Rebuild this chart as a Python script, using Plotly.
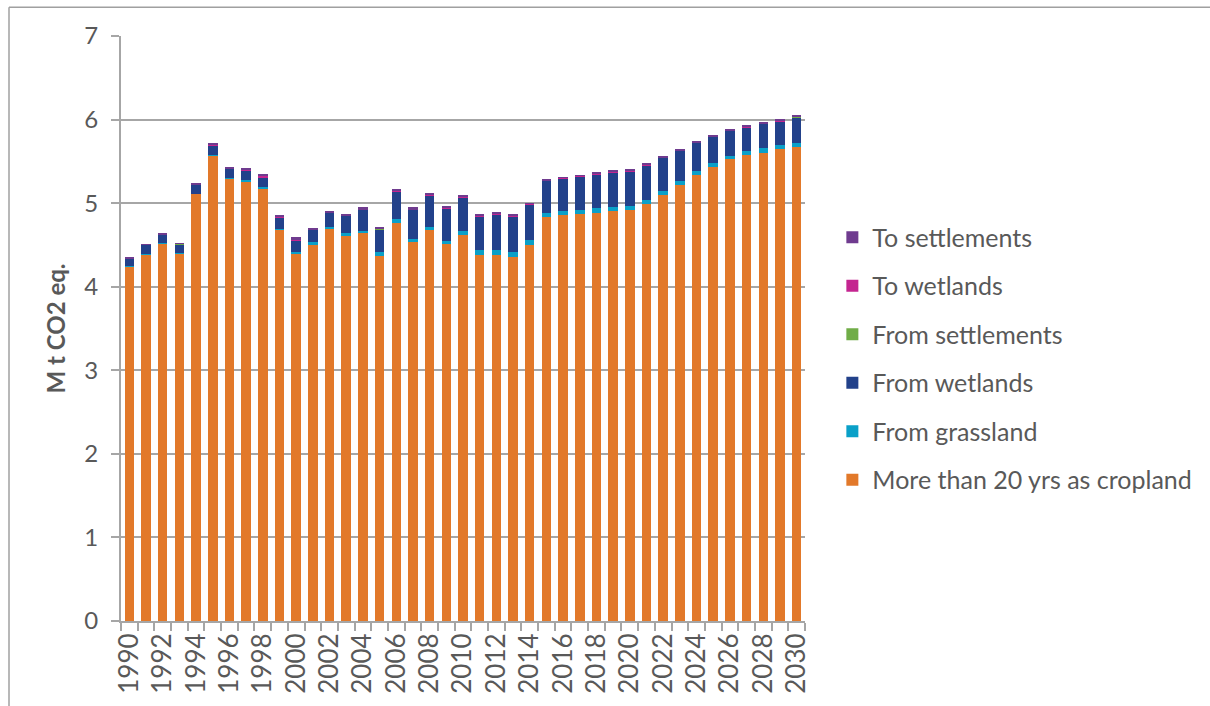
import plotly.graph_objects as go

years = [str(y) for y in range(1990, 2031)]
tick_text = [y if int(y) % 2 == 0 else "" for y in years]

cropland = [4.24, 4.39, 4.52, 4.40, 5.11, 5.57, 5.29, 5.26, 5.17, 4.68,
            4.40, 4.51, 4.685, 4.61, 4.64, 4.37, 4.765, 4.535, 4.68, 4.51,
            4.62, 4.38, 4.38, 4.35, 4.50, 4.84, 4.86, 4.87, 4.885, 4.905,
            4.915, 4.985, 5.095, 5.22, 5.335, 5.43, 5.525, 5.575, 5.605, 5.645,
            5.675]
from_grassland = [0.005, 0.005, 0.005, 0.005, 0.005, 0.01, 0.01, 0.02, 0.02, 0.01,
                  0.01, 0.02, 0.025, 0.03, 0.03, 0.04, 0.045, 0.04, 0.04, 0.04,
                  0.05, 0.055, 0.06, 0.06, 0.055, 0.045, 0.045, 0.05, 0.055, 0.05,
                  0.055, 0.055, 0.055, 0.05, 0.045, 0.05, 0.045, 0.045, 0.05, 0.045,
                  0.045]
from_wetlands = [0.09, 0.105, 0.10, 0.105, 0.105, 0.11, 0.11, 0.105, 0.12, 0.135,
                 0.145, 0.15, 0.175, 0.21, 0.25, 0.28, 0.33, 0.345, 0.375, 0.385,
                 0.40, 0.405, 0.425, 0.43, 0.43, 0.385, 0.39, 0.40, 0.405, 0.415,
                 0.41, 0.41, 0.395, 0.355, 0.34, 0.315, 0.295, 0.285, 0.295, 0.29,
                 0.31]
from_settlements = [0.002, 0.002, 0.002, 0.002, 0.002, 0.002, 0.002, 0.002, 0.002, 0.002,
                    0.002, 0.002, 0.002, 0.002, 0.002, 0.002, 0.002, 0.002, 0.002, 0.002,
                    0.002, 0.002, 0.002, 0.002, 0.002, 0.002, 0.002, 0.002, 0.002, 0.002,
                    0.002, 0.002, 0.002, 0.002, 0.002, 0.002, 0.002, 0.002, 0.002, 0.002,
                    0.002]
to_wetlands = [0.003, 0.002, 0.003, 0.003, 0.005, 0.006, 0.008, 0.012, 0.015, 0.012,
               0.012, 0.008, 0.006, 0.005, 0.006, 0.006, 0.005, 0.006, 0.005, 0.005,
               0.005, 0.005, 0.005, 0.005, 0.004, 0.004, 0.004, 0.004, 0.005, 0.005,
               0.005, 0.006, 0.004, 0.006, 0.005, 0.005, 0.004, 0.006, 0.005, 0.005,
               0.005]
to_settlements = [0.005, 0.001, 0.005, 0.005, 0.013, 0.012, 0.010, 0.021, 0.023, 0.021,
                  0.021, 0.015, 0.017, 0.018, 0.022, 0.022, 0.013, 0.022, 0.013, 0.013,
                  0.013, 0.013, 0.013, 0.013, 0.009, 0.009, 0.009, 0.009, 0.013, 0.013,
                  0.013, 0.017, 0.009, 0.017, 0.013, 0.013, 0.009, 0.017, 0.013, 0.013,
                  0.013]

series = [
    ("More than 20 yrs as cropland", cropland, "#E2792A"),
    ("From grassland", from_grassland, "#0AA0C8"),
    ("From wetlands", from_wetlands, "#22418A"),
    ("From settlements", from_settlements, "#70AD47"),
    ("To wetlands", to_wetlands, "#C42590"),
    ("To settlements", to_settlements, "#6F3B8F"),
]

FONT = "Lato"
TXT = "#595959"
GRID = "#A6A6A6"

fig = go.Figure()
n = len(series)
for i, (name, vals, col) in enumerate(series):
    fig.add_trace(go.Bar(x=years, y=vals, name=name, legendgroup=f"g{i}",
                         legendrank=n - i,
                         marker=dict(color=col, line=dict(width=0))))

fig.update_layout(
    barmode="stack",
    bargap=0.43,
    width=1210, height=706,
    margin=dict(l=121, r=405, t=36, b=82),
    paper_bgcolor="white", plot_bgcolor="white",
    font=dict(family=FONT, color=TXT, size=24),
    legend=dict(traceorder="grouped", tracegroupgap=13,
                x=1.04, xanchor="left", y=0.695, yanchor="top",
                font=dict(family=FONT, size=25, color=TXT),
                itemwidth=30, bgcolor="rgba(0,0,0,0)"),
    showlegend=True,
)
fig.update_yaxes(range=[0, 7], dtick=1, showgrid=True, gridcolor=GRID, gridwidth=2,
                 showline=True, linecolor=GRID, linewidth=2,
                 ticks="outside", ticklen=8, tickcolor=GRID, tickwidth=2,
                 ticklabelstandoff=8,
                 tickfont=dict(size=24, color=TXT), zeroline=False,
                 title=dict(text="<b>M t CO2 eq.</b>", font=dict(size=24, color=TXT), standoff=12))
fig.update_xaxes(type="category", tickmode="array", tickvals=years, ticktext=tick_text,
                 tickangle=-90, tickson="boundaries", ticks="outside", ticklen=8,
                 tickcolor=GRID, tickwidth=2, showline=True, linecolor=GRID, linewidth=2,
                 showgrid=False, tickfont=dict(size=26, color=TXT))

# chart frame (top and left edges)
fx0 = (9 - 121) / 684
fy1 = (624 - 7) / 588
fig.add_shape(type="line", xref="paper", yref="paper",
              x0=fx0, x1=1.62, y0=fy1, y1=fy1,
              line=dict(color="#A0A0A0", width=1.5))
fig.add_shape(type="line", xref="paper", yref="paper",
              x0=fx0, x1=fx0, y0=-0.2, y1=fy1,
              line=dict(color="#A0A0A0", width=1.5))

fig.write_html("out.html", config={"displayModeBar": False},
               post_script="document.body.style.margin='0';document.body.style.overflow='hidden';")
